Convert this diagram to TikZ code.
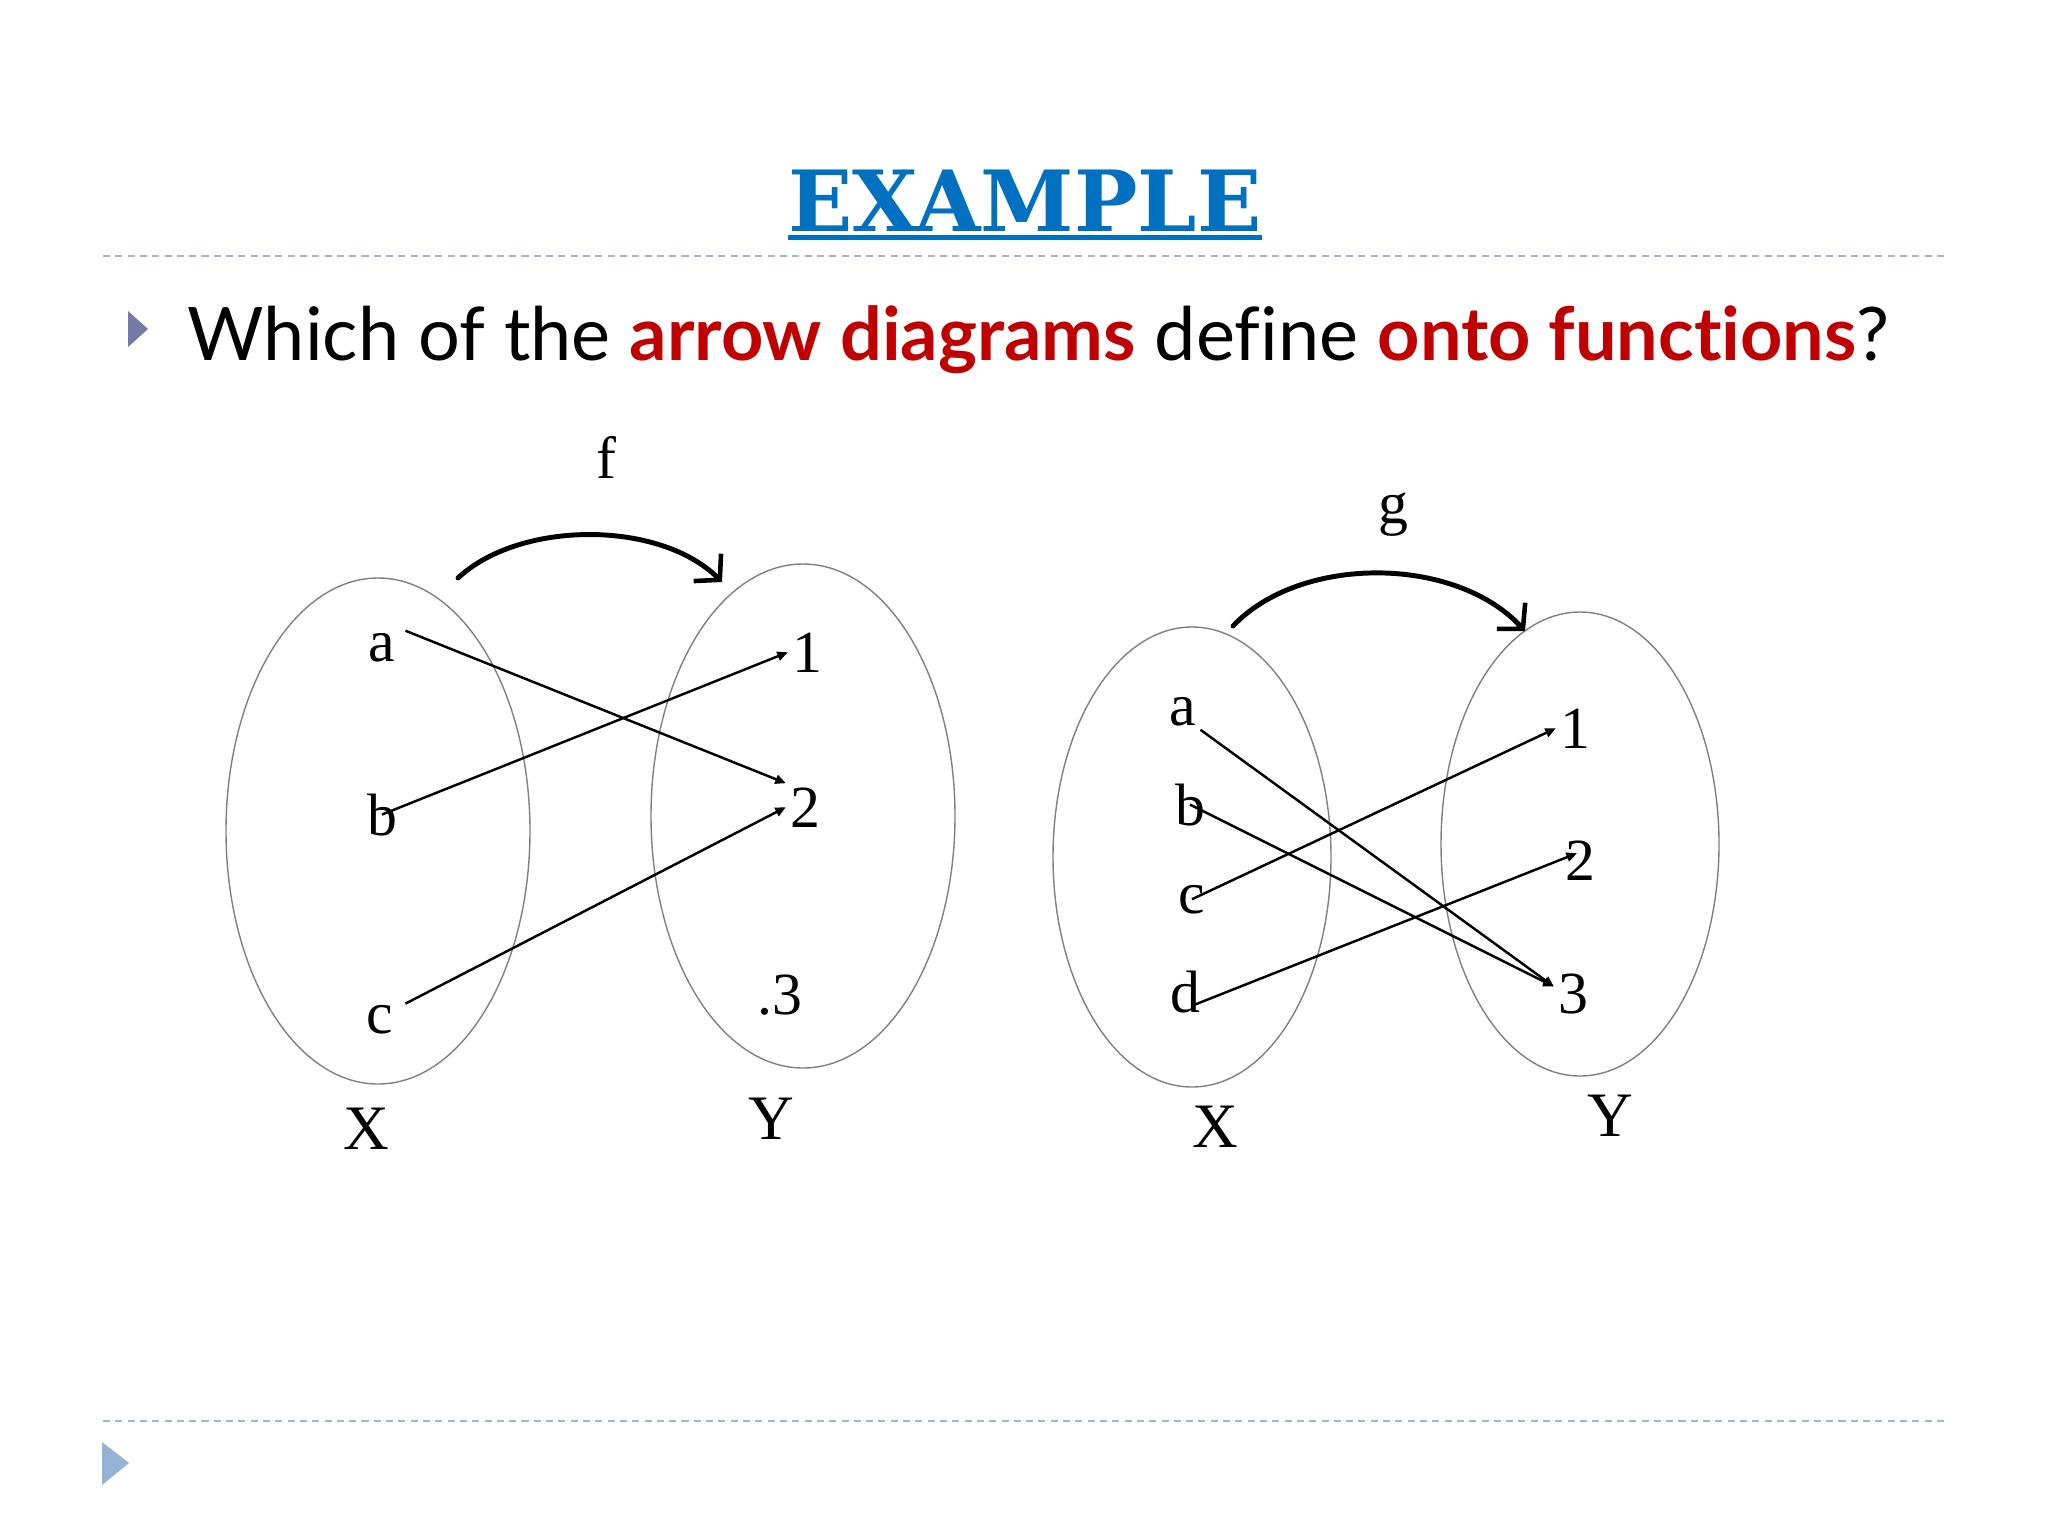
\documentclass[tikz,border=0pt]{standalone}
\usepackage{fontspec}
\setmainfont{Liberation Serif}
\newfontfamily\titlefont{DejaVu Serif}
\newfontfamily\questfont[Ligatures=NoCommon]{Lato}
\usetikzlibrary{positioning, calc, arrows.meta}

\definecolor{titleblue}{RGB}{0,112,192}
\definecolor{keyred}{RGB}{192,0,0}
\definecolor{rulegray}{RGB}{165,180,198}
\definecolor{bulletblue}{RGB}{116,122,168}
\definecolor{cornerblue}{RGB}{150,178,212}

\begin{document}
\begin{tikzpicture}
    [x=0.01cm, y=-0.01cm,
    elt/.style={inner sep=1pt, anchor=base, font=\fontsize{17}{20}\selectfont},
    setname/.style={inner sep=1pt, anchor=base, font=\fontsize{18}{21}\selectfont},
    conn/.style={-{Triangle[length=3pt,width=2.6pt]}, line width=0.7pt},
    mapsto/.style={-{Straight Barb[length=5pt,width=11pt,line width=1.3pt]}, line width=1.4pt, line cap=round},
    setline/.style={draw=black!50, line width=0.4pt},
    rule/.style={draw=rulegray, line width=0.6pt, dash pattern=on 2pt off 1.5pt},]

    \useasboundingbox (0,0) rectangle (2048,1536);

    %Heading
    \node[inner sep=0pt, anchor=base, text=titleblue, font=\titlefont\bfseries\fontsize{24}{29}\selectfont](title) at (1025,231){EXAMPLE};
    \fill[titleblue] ($(title.base west)+(0,4)$) rectangle ($(title.base east)+(0,9)$);
    \draw[rule] (103,256) -- (1946,256);
    \fill[bulletblue] (128,311) -- (128,347) -- (148,329) -- cycle;
    \node[inner sep=0pt, anchor=base west, font=\questfont\fontsize{21}{25}\selectfont](question) at (187,360)
        {Which of the \textcolor{keyred}{\bfseries arrow diagrams} define \textcolor{keyred}{\bfseries onto functions}?};

    %Sets
    \draw[setline] (378,831) ellipse [x radius=152, y radius=253];
    \draw[setline] (803,816) ellipse [x radius=152, y radius=252];
    \draw[setline] (1192,857) ellipse [x radius=139, y radius=230];
    \draw[setline] (1580,844) ellipse [x radius=139, y radius=232];

    %Nodes f
    \node[elt](fa) at (382,661){a};
    \node[elt](fb) at (382,835){b};
    \node[elt](fc) at (380,1033){c};
    \node[elt](f1) at (807,672){1};
    \node[elt](f2) at (805,827){2};
    \node[elt](f3) at (780,1014){.3};

    %Nodes g
    \node[elt](ga) at (1183,725){a};
    \node[elt](gb) at (1190,825){b};
    \node[elt](gc) at (1192,913){c};
    \node[elt](gd) at (1185,1012){d};
    \node[elt](g1) at (1575,748){1};
    \node[elt](g2) at (1580,880){2};
    \node[elt](g3) at (1573,1013){3};

    %Lines
    \draw[conn]($(fa.north east)+(6,2)$)--(f2.north west);
    \draw[conn](fb.center)--(f1.west);
    \draw[conn]($(fc.north east)+(8,3)$)--(f2.west);

    \draw[conn](ga.south east)--(g3.160);
    \draw[conn](gb.center)--(g3.160);
    \draw[conn](gc.center)--(g1.west);
    \draw[conn]($(gd.center)+(10,13)$)--($(g2.center)+(-3,-7)$);

    %Labels
    \node[elt](flabel) at (606,478){f};
    \node[elt](glabel) at (1393,523){g};
    \node[setname](fX) at (366,1149){X};
    \node[setname](fY) at (771,1139){Y};
    \node[setname](gX) at (1215,1147){X};
    \node[setname](gY) at (1610,1136){Y};

    \coordinate (fstart) at (458,578);
    \coordinate (fend) at (722,582);
    \draw[mapsto] (fstart) .. controls (520,520) and (660,520) .. (fend);
    \coordinate (gstart) at (1233,626);
    \coordinate (gend) at (1525,631);
    \draw[mapsto] (gstart) .. controls (1300,555) and (1455,555) .. (gend);

    %Footer
    \draw[rule] (103,1421) -- (1946,1421);
    \fill[cornerblue] (102,1442) -- (102,1485) -- (129,1463) -- cycle;

\end{tikzpicture}
\end{document}
